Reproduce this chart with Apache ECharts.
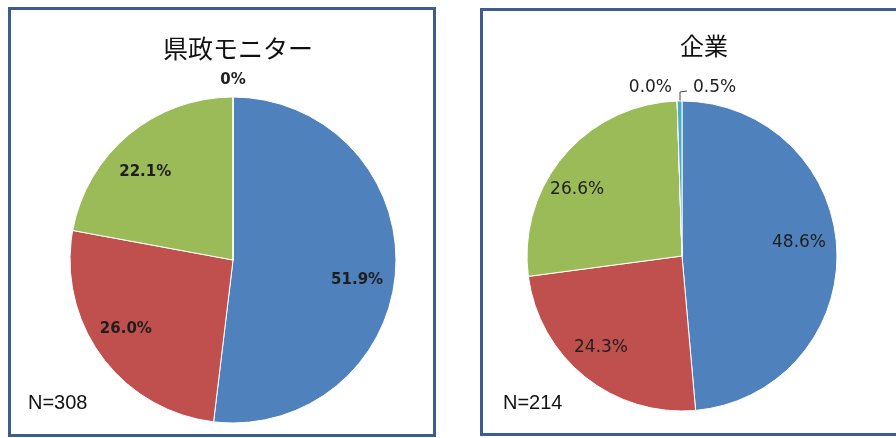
<!DOCTYPE html>
<html>
<head>
<meta charset="utf-8">
<script src="https://cdn.jsdelivr.net/npm/echarts@6/dist/echarts.min.js"></script>
<style>
  html, body { margin: 0; padding: 0; background: #fff; }
  #chart { width: 896px; height: 438px; }
</style>
</head>
<body>
<div id="chart"></div>
<script>
// Answer categories (same order in both groups)
const categories = ['選択肢1', '選択肢2', '選択肢3', '選択肢4', '選択肢5'];
const sliceColors = ['#4f81bd', '#c0504d', '#9bbb59', '#8064a2', '#4bacc6'];

// Respondent groups
const groupTitles = ['県政モニター', '企業'];
const sampleSizes = [308, 214];

// Shares (%) per group
const prefMonitorShares = [51.9, 26.0, 22.1, 0];
const companyShares = [48.6, 24.3, 26.6, 0.0, 0.5];

const LABEL_FONT = '"DejaVu Sans", Verdana, sans-serif';
const TEXT_COLOR = '#1e1e1e';

// Geometry of each pie panel, plus small pixel nudges for the in-slice labels
const panels = [
  { cx: 233, cy: 260, r: 163, shares: prefMonitorShares, bold: true,
    fmt: v => (v === 0 ? '0%' : v.toFixed(1) + '%'),
    nudges: [[-5, 12], [-3, -8], [-5, 11]],
    titleX: 238, titleY: 48, titleSize: 25, nX: 28, nY: 403 },
  { cx: 682, cy: 256, r: 155, shares: companyShares, bold: false,
    fmt: v => v.toFixed(1) + '%',
    nudges: [[-6, -8], [-4, -5], [-11, 13]],
    titleX: 704, titleY: 46, titleSize: 24, nX: 503, nY: 403 }
];

const SMALL = 1; // shares below this are labelled outside the pie

function buildSeries(p, idx) {
  const labelStyle = {
    fontFamily: LABEL_FONT,
    fontSize: p.bold ? 15 : 17,
    fontWeight: p.bold ? 'bold' : 'normal',
    color: TEXT_COLOR
  };
  // Slices, with outside labels for the tiny shares
  const smallIdx = [];
  p.shares.forEach((v, i) => { if (v < SMALL) smallIdx.push(i); });
  const baseData = p.shares.map((v, i) => ({
    name: categories[i],
    value: v,
    itemStyle: { color: sliceColors[i] },
    label: { show: v < SMALL },
    labelLine: { show: v < SMALL && v > 0 }
  }));
  const base = {
    type: 'pie',
    name: groupTitles[idx],
    center: [p.cx, p.cy],
    radius: [0, p.r],
    startAngle: 90,
    clockwise: true,
    avoidLabelOverlap: false,
    silent: true,
    itemStyle: { borderColor: '#ffffff', borderWidth: 1 },
    label: Object.assign({ position: 'outside', formatter: q => p.fmt(q.value) }, labelStyle),
    labelLine: { lineStyle: { color: '#444', width: 1 }, length: 6, length2: 6 },
    data: baseData,
    labelLayout: function (q) {
      const top = p.cy - p.r;
      const k = smallIdx.indexOf(q.dataIndex);
      if (k < 0) return {};
      if (smallIdx.length === 1) {
        return { x: p.cx, y: top - 17, align: 'center', verticalAlign: 'middle' };
      }
      if (p.shares[q.dataIndex] === 0) {
        return { x: p.cx - 10, y: top - 13, align: 'right', verticalAlign: 'middle' };
      }
      return {
        x: p.cx + 11, y: top - 13, align: 'left', verticalAlign: 'middle',
        labelLinePoints: [[p.cx - 2, top], [p.cx - 2, top - 9], [p.cx + 5, top - 10]]
      };
    }
  };
  // Transparent ring that carries the in-slice labels
  const ring = {
    type: 'pie',
    center: [p.cx, p.cy],
    radius: [p.r * 0.55, p.r],
    startAngle: 90,
    clockwise: true,
    avoidLabelOverlap: false,
    silent: true,
    z: 3,
    itemStyle: { color: 'rgba(0,0,0,0)', borderWidth: 0 },
    label: Object.assign({ position: 'inside', formatter: q => p.fmt(q.value) }, labelStyle),
    labelLine: { show: false },
    data: p.shares.map((v, i) => ({
      name: categories[i],
      value: v,
      label: { show: v >= SMALL, offset: p.nudges[i] || [0, 0] }
    }))
  };
  return [base, ring];
}

const series = [];
panels.forEach((p, i) => series.push(...buildSeries(p, i)));

const frameStyle = { fill: 'none', stroke: '#3c5e8e', lineWidth: 3 };
const graphics = [
  { type: 'rect', shape: { x: 9.5, y: 8.5, width: 425, height: 427 }, style: frameStyle, z: 10 },
  { type: 'rect', shape: { x: 481.5, y: 9.5, width: 460, height: 425 }, style: frameStyle, z: 10 }
];
panels.forEach((p, i) => {
  graphics.push({
    type: 'text', x: p.titleX, y: p.titleY, z: 10,
    style: { text: groupTitles[i], font: p.titleSize + 'px "Noto Sans CJK JP", sans-serif',
             fill: '#111', align: 'center', verticalAlign: 'middle' }
  });
  graphics.push({
    type: 'text', x: p.nX, y: p.nY, z: 10,
    style: { text: 'N=' + sampleSizes[i], font: '20px "Liberation Sans", Arial, sans-serif',
             fill: '#111', align: 'left', verticalAlign: 'middle' }
  });
});

const chart = echarts.init(document.getElementById('chart'), null, { renderer: 'canvas' });
chart.setOption({
  animation: false,
  backgroundColor: '#ffffff',
  graphic: graphics,
  series: series
});
</script>
</body>
</html>
